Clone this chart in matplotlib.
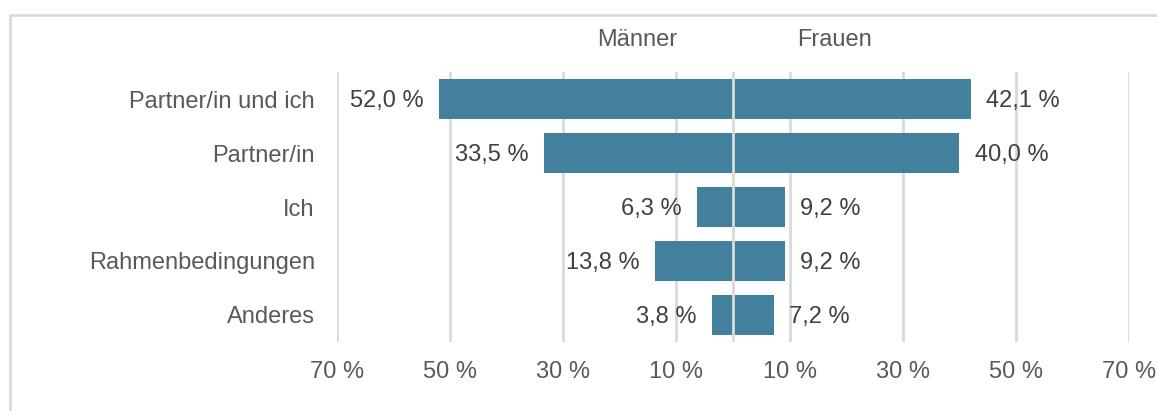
import matplotlib.pyplot as plt
from matplotlib.patches import Rectangle

# Antworten nach Geschlecht (Anteile in %)
categories = ["Partner/in und ich", "Partner/in", "Ich", "Rahmenbedingungen", "Anderes"]
maenner = [52.0, 33.5, 6.3, 13.8, 3.8]
frauen = [42.1, 40.0, 9.2, 9.2, 7.2]
tick_values = [-70, -50, -30, -10, 10, 30, 50, 70]

bar_color = "#43809d"
grid_color = "#d9d9d9"
text_color = "#595959"
value_color = "#404040"

plt.rcParams["font.family"] = ["Liberation Sans", "DejaVu Sans"]

fig = plt.figure(figsize=(11.57, 4.11), dpi=100)
ax = fig.add_axes([0.2913, 0.1679, 0.6845, 0.6569])

y = list(range(len(categories)))
ax.barh(y, [-v for v in maenner], height=0.74, color=bar_color, zorder=2)
ax.barh(y, frauen, height=0.74, color=bar_color, zorder=2)

ax.set_xlim(-70, 70)
ax.set_ylim(len(categories) - 0.5, -0.5)

for t in tick_values:
    ax.axvline(t, color=grid_color, lw=2, zorder=1)
ax.axvline(0, color=grid_color, lw=2, zorder=3)

ax.set_xticks(tick_values)
ax.set_xticklabels([f"{abs(t)} %" for t in tick_values])
ax.set_yticks(y)
ax.set_yticklabels(categories)
ax.tick_params(axis="x", length=0, pad=14, labelsize=17, labelcolor=text_color)
ax.tick_params(axis="y", length=0, pad=16, labelsize=17, labelcolor=text_color)
for s in ax.spines.values():
    s.set_visible(False)

def fmt(v):
    return f"{v:.1f}".replace(".", ",") + " %"

for i, (m, f) in enumerate(zip(maenner, frauen)):
    ax.annotate(fmt(m), (-m, i), xytext=(-11, -1.5), textcoords="offset points",
                ha="right", va="center", fontsize=17, color=value_color)
    ax.annotate(fmt(f), (f, i), xytext=(11, -1.5), textcoords="offset points",
                ha="left", va="center", fontsize=17, color=value_color)

# Kopfzeile über den beiden Hälften
ax.text(-17, -0.88, "Männer", ha="center", va="bottom",
        fontsize=17, color=text_color)
ax.text(18, -0.88, "Frauen", ha="center", va="bottom",
        fontsize=17, color=text_color)

# Rahmen oben und links
fig.patches.append(Rectangle((10 / 1157, -0.1), 1.2, 1.1 - 15 / 411,
                             transform=fig.transFigure, fill=False,
                             edgecolor=grid_color, lw=2))

fig.savefig("out.png", dpi=100, facecolor="white")
